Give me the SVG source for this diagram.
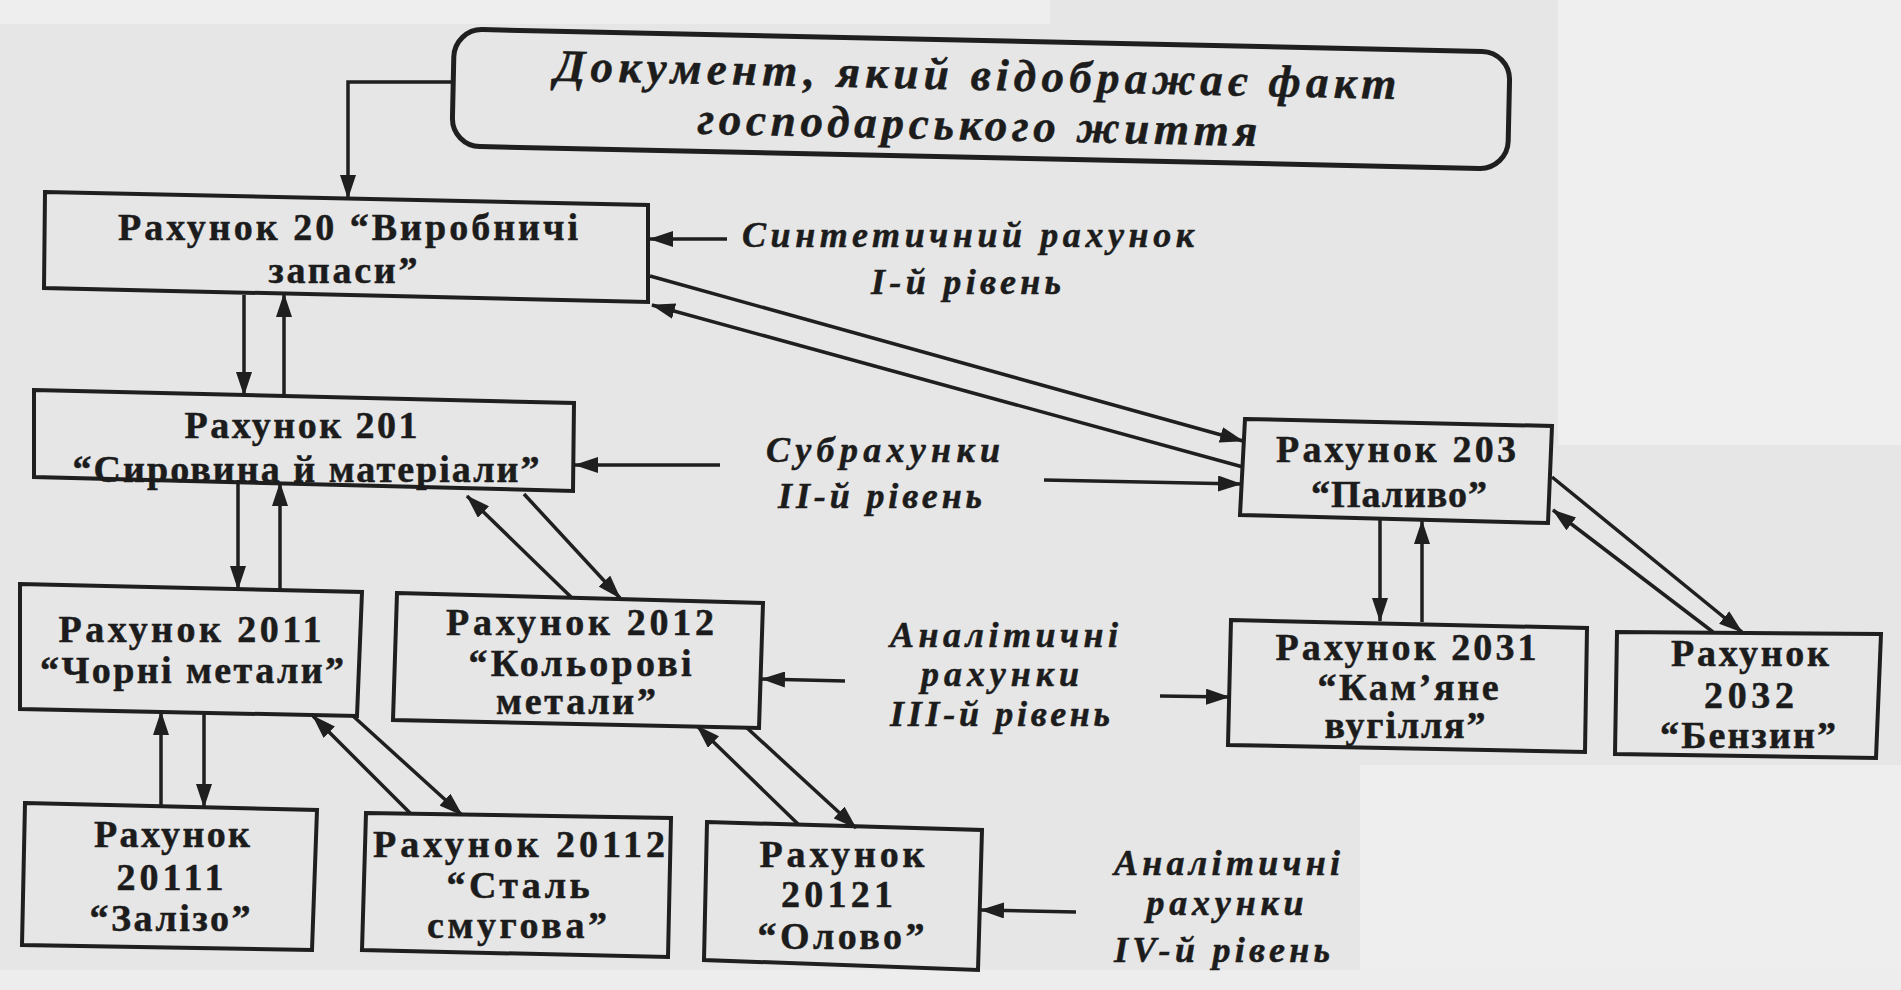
<svg xmlns="http://www.w3.org/2000/svg" width="1901" height="990" viewBox="0 0 1901 990">
<defs>
<style>
.box{fill:none;stroke:#1f1f1f;stroke-width:4;stroke-linejoin:miter}
.t{font-family:"Liberation Serif","Times New Roman",serif;font-weight:bold;font-size:38px;fill:#1c1c1c;stroke:#1c1c1c;stroke-width:0.5;text-anchor:middle}
.i{font-style:italic;font-size:36px}
.c{fill:none;stroke:#1f1f1f;stroke-width:3.5;marker-end:url(#ah)}
</style>
<marker id="ah" viewBox="0 0 24 16" refX="23" refY="8" markerWidth="24" markerHeight="16" markerUnits="userSpaceOnUse" orient="auto">
<path d="M0,0 L24,8 L0,16 z" fill="#1f1f1f"/>
</marker>
</defs>
<rect x="0" y="0" width="1901" height="990" fill="#e6e6e6"/>
<rect x="0" y="0" width="1050" height="24" fill="#eeeeee"/>
<rect x="1558" y="0" width="343" height="445" fill="#efefef"/>
<rect x="1360" y="765" width="541" height="225" fill="#eeeeee"/>
<rect x="0" y="970" width="1901" height="20" fill="#ededed"/>

<g id="connectors">
<polyline class="c" points="455,82 348,82 348,198"/>
<line class="c" x1="244" y1="295" x2="244" y2="395"/>
<line class="c" x1="284" y1="396" x2="284" y2="294"/>
<line class="c" x1="727" y1="239" x2="650" y2="239"/>
<line class="c" x1="650" y1="276" x2="1243" y2="441"/>
<line class="c" x1="1243" y1="467" x2="652" y2="305"/>
<line class="c" x1="720" y1="465" x2="575" y2="465"/>
<line class="c" x1="1044" y1="480" x2="1241" y2="484"/>
<line class="c" x1="1380" y1="519" x2="1380" y2="621"/>
<line class="c" x1="1422" y1="622" x2="1422" y2="521"/>
<line class="c" x1="1552" y1="477" x2="1742" y2="632"/>
<line class="c" x1="1713" y1="632" x2="1553" y2="510"/>
<line class="c" x1="238" y1="480" x2="238" y2="589"/>
<line class="c" x1="280" y1="589" x2="280" y2="483"/>
<line class="c" x1="571" y1="597" x2="467" y2="496"/>
<line class="c" x1="524" y1="494" x2="620" y2="598"/>
<line class="c" x1="845" y1="681" x2="762" y2="679"/>
<line class="c" x1="1160" y1="696" x2="1229" y2="697"/>
<line class="c" x1="161" y1="805" x2="161" y2="712"/>
<line class="c" x1="204" y1="714" x2="204" y2="807"/>
<line class="c" x1="411" y1="814" x2="313" y2="716"/>
<line class="c" x1="353" y1="716" x2="462" y2="815"/>
<line class="c" x1="799" y1="825" x2="697" y2="726"/>
<line class="c" x1="746" y1="727" x2="856" y2="828"/>
<line class="c" x1="1076" y1="912" x2="981" y2="910"/>
</g>

<g id="doc" transform="rotate(1.25 981 99)">
<rect x="453" y="40.5" width="1056" height="117" rx="28" fill="none" stroke="#1f1f1f" stroke-width="5"/>
<text class="t i" x="975" y="90" textLength="842" lengthAdjust="spacing" style="font-size:45px">Документ, який відображає факт</text>
<text class="t i" x="978" y="140" textLength="560" lengthAdjust="spacing" style="font-size:45px">господарського життя</text>
</g>

<g id="n20">
<polygon class="box" points="45,192 648,205 648,302 44,288"/>
<text class="t" x="348" y="240" textLength="460" lengthAdjust="spacing">Рахунок 20 “Виробничі</text>
<text class="t" x="343" y="283" textLength="149" lengthAdjust="spacing">запаси”</text>
</g>

<g id="n201">
<polygon class="box" points="34,390 574,403 573,491 34,477"/>
<text class="t" x="301" y="438" textLength="233" lengthAdjust="spacing">Рахунок 201</text>
<text class="t" x="306" y="482" textLength="467" lengthAdjust="spacing">“Сировина й матеріали”</text>
</g>

<g id="n203">
<polygon class="box" points="1245,419 1552,426 1548,523 1240,515"/>
<text class="t" x="1396" y="462" textLength="240" lengthAdjust="spacing">Рахунок 203</text>
<text class="t" x="1399" y="507" textLength="176" lengthAdjust="spacing">“Паливо”</text>
</g>

<g id="n2011">
<polygon class="box" points="20,584 362,592 357,716 20,709"/>
<text class="t" x="190" y="642" textLength="263" lengthAdjust="spacing">Рахунок 2011</text>
<text class="t" x="192" y="683" textLength="304" lengthAdjust="spacing">“Чорні метали”</text>
</g>

<g id="n2012">
<polygon class="box" points="397,593 763,603 759,728 393,720"/>
<text class="t" x="580" y="635" textLength="268" lengthAdjust="spacing">Рахунок 2012</text>
<text class="t" x="580" y="676" textLength="223" lengthAdjust="spacing">“Кольорові</text>
<text class="t" x="576" y="714" textLength="160" lengthAdjust="spacing">метали”</text>
</g>

<g id="n2031">
<polygon class="box" points="1231,620 1587,628 1585,752 1228,745"/>
<text class="t" x="1406" y="660" textLength="261" lengthAdjust="spacing">Рахунок 2031</text>
<text class="t" x="1408" y="700" textLength="181" lengthAdjust="spacing">“Кам’яне</text>
<text class="t" x="1405" y="738" textLength="161" lengthAdjust="spacing">вугілля”</text>
</g>

<g id="n2032">
<polygon class="box" points="1617,632 1881,634 1876,758 1615,754"/>
<text class="t" x="1750" y="666" textLength="158" lengthAdjust="spacing">Рахунок</text>
<text class="t" x="1749" y="708" textLength="90" lengthAdjust="spacing">2032</text>
<text class="t" x="1748" y="748" textLength="176" lengthAdjust="spacing">“Бензин”</text>
</g>

<g id="n20111">
<polygon class="box" points="25,803 317,810 312,950 22,945"/>
<text class="t" x="172" y="847" textLength="156" lengthAdjust="spacing">Рахунок</text>
<text class="t" x="170" y="890" textLength="107" lengthAdjust="spacing">20111</text>
<text class="t" x="170" y="931" textLength="161" lengthAdjust="spacing">“Залізо”</text>
</g>

<g id="n20112">
<polygon class="box" points="366,813 671,818 668,957 362,950"/>
<text class="t" x="519" y="857" textLength="292" lengthAdjust="spacing">Рахунок 20112</text>
<text class="t" x="518" y="898" textLength="143" lengthAdjust="spacing">“Сталь</text>
<text class="t" x="517" y="938" textLength="180" lengthAdjust="spacing">смугова”</text>
</g>

<g id="n20121">
<polygon class="box" points="707,822 982,830 978,970 704,960"/>
<text class="t" x="842" y="867" textLength="165" lengthAdjust="spacing">Рахунок</text>
<text class="t" x="837" y="907" textLength="112" lengthAdjust="spacing">20121</text>
<text class="t" x="841" y="949" textLength="167" lengthAdjust="spacing">“Олово”</text>
</g>

<g id="lbl-synth">
<text class="t i" x="968" y="247" textLength="452" lengthAdjust="spacing">Синтетичний рахунок</text>
<text class="t i" x="966" y="294" textLength="190" lengthAdjust="spacing">І-й рівень</text>
</g>
<g id="lbl-sub">
<text class="t i" x="883" y="462" textLength="234" lengthAdjust="spacing">Субрахунки</text>
<text class="t i" x="880" y="508" textLength="204" lengthAdjust="spacing">ІІ-й рівень</text>
</g>
<g id="lbl-an3">
<text class="t i" x="1004" y="647" textLength="228" lengthAdjust="spacing">Аналітичні</text>
<text class="t i" x="1000" y="686" textLength="158" lengthAdjust="spacing">рахунки</text>
<text class="t i" x="1000" y="726" textLength="220" lengthAdjust="spacing">ІІІ-й рівень</text>
</g>
<g id="lbl-an4">
<text class="t i" x="1227" y="875" textLength="226" lengthAdjust="spacing">Аналітичні</text>
<text class="t i" x="1225" y="915" textLength="157" lengthAdjust="spacing">рахунки</text>
<text class="t i" x="1222" y="962" textLength="216" lengthAdjust="spacing">IV-й рівень</text>
</g>
</svg>
